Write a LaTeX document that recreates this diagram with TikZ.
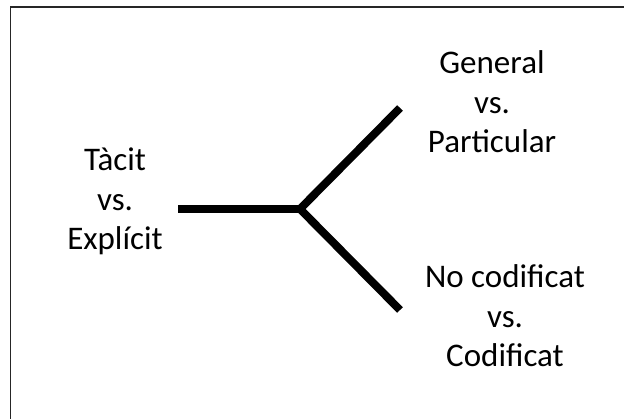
\documentclass[tikz,border=0pt]{standalone}
\usepackage{fontspec}
\setmainfont{Carlito}
\begin{document}
\begin{tikzpicture}[x=1pt,y=1pt,
  label/.style={align=center,inner sep=0pt,anchor=base,
    font=\fontsize{33}{39.5}\selectfont},
  branch/.style={line width=8pt,line cap=butt,line join=miter},
  frame/.style={line width=1.5pt,draw=black!85}]
  \useasboundingbox (0,0) rectangle (624,419);
  \clip (0,0) rectangle (624,419);
  % outer frame (runs past the page edge on the right and bottom)
  \draw[frame] (10.5,-20) -- (10.5,412) -- (650,412);
  % branch points
  \coordinate (left) at (178,210);
  \coordinate (fork) at (300,210);
  \coordinate (up) at (400,311);
  \coordinate (down) at (400,109);
  \draw[branch] (left) -- (fork);
  \draw[branch] (up) -- (fork) -- (down);
  % labels (anchored on the baseline of the last line)
  \node[label] (tacit) at (115,169) {Tàcit\\vs.\\Explícit};
  \node[label] (general) at (492,266) {General\\vs.\\Particular};
  \node[label] (codificat) at (505,52) {No codificat\\vs.\\Codificat};
\end{tikzpicture}
\end{document}
